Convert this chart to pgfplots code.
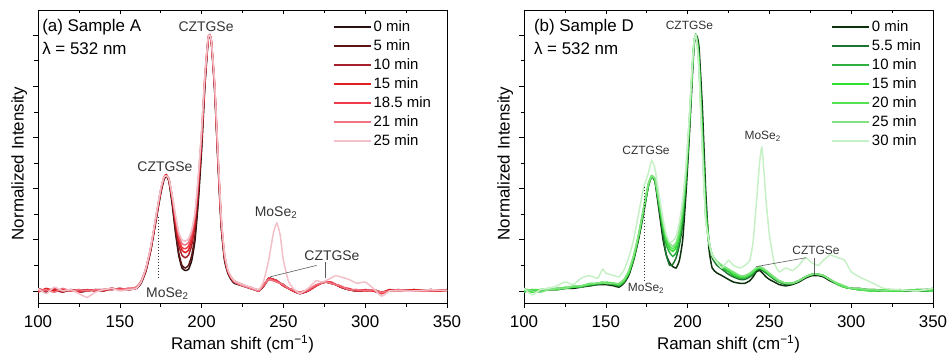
\documentclass[border=0pt]{standalone}
\usepackage{pgfplots}
\pgfplotsset{compat=1.18}
\usepackage{pgfplotstable}
\usepackage{fontspec}
\setmainfont{Liberation Sans}

\definecolor{ra0}{HTML}{2A1010}
\definecolor{ra5}{HTML}{5E1414}
\definecolor{ra10}{HTML}{A8202C}
\definecolor{ra15}{HTML}{E02020}
\definecolor{ra185}{HTML}{F03A4A}
\definecolor{ra21}{HTML}{F07482}
\definecolor{ra25}{HTML}{F2C0C8}
\definecolor{gd0}{HTML}{0C300C}
\definecolor{gd55}{HTML}{1C7430}
\definecolor{gd10}{HTML}{2EB03E}
\definecolor{gd15}{HTML}{30E030}
\definecolor{gd20}{HTML}{52E252}
\definecolor{gd25}{HTML}{82E282}
\definecolor{gd30}{HTML}{C6F0C6}
\definecolor{annot}{HTML}{333333}

\pgfplotstableread{
x a0 a5 a10 a15 a185 a21 a25
100 0.005 0.000 0.010 -0.005 0.005 0.000 0.010
105 -0.005 0.005 0.000 0.010 0.000 0.005 -0.010
110 0.010 0.000 0.005 0.000 0.010 -0.005 0.015
115 0.000 0.005 -0.005 0.005 0.000 0.010 0.000
120 0.005 0.000 0.005 0.000 0.005 0.000 0.005
125 -0.005 0.005 0.000 0.005 -0.005 0.005 -0.010
130 0.000 0.000 0.005 0.000 0.005 0.000 -0.025
135 0.005 0.005 0.000 0.005 0.000 0.005 -0.005
140 0.000 0.005 0.005 0.000 0.005 0.005 0.005
145 0.010 0.005 0.010 0.010 0.005 0.010 0.010
150 0.005 0.010 0.005 0.005 0.010 0.005 0.000
155 0.005 0.005 0.010 0.005 0.005 0.010 0.005
160 0.010 0.010 0.010 0.015 0.010 0.015 0.010
163 0.030 0.030 0.035 0.035 0.035 0.040 0.035
166 0.080 0.080 0.085 0.085 0.090 0.090 0.090
169 0.160 0.165 0.165 0.170 0.170 0.175 0.175
172 0.270 0.275 0.280 0.280 0.285 0.285 0.290
175 0.380 0.385 0.390 0.390 0.395 0.395 0.400
177 0.435 0.440 0.440 0.445 0.445 0.445 0.445
178.5 0.450 0.450 0.450 0.455 0.450 0.450 0.450
180 0.430 0.430 0.435 0.435 0.440 0.440 0.440
182 0.340 0.350 0.360 0.365 0.370 0.370 0.375
184 0.230 0.240 0.260 0.270 0.280 0.290 0.300
186 0.140 0.150 0.180 0.200 0.210 0.220 0.230
188 0.090 0.100 0.140 0.160 0.170 0.185 0.200
190 0.080 0.090 0.130 0.150 0.165 0.180 0.195
192 0.085 0.100 0.140 0.160 0.175 0.190 0.205
194 0.120 0.140 0.180 0.200 0.215 0.230 0.240
196 0.200 0.220 0.260 0.280 0.290 0.300 0.310
198 0.350 0.370 0.400 0.420 0.430 0.440 0.450
200 0.550 0.570 0.590 0.600 0.610 0.620 0.630
202 0.800 0.810 0.820 0.830 0.830 0.840 0.840
204 0.980 0.980 0.985 0.985 0.990 0.990 0.990
205 1.000 1.000 1.000 1.000 1.000 1.000 1.000
206 0.970 0.970 0.970 0.970 0.975 0.975 0.975
208 0.780 0.790 0.790 0.800 0.800 0.800 0.810
210 0.500 0.510 0.520 0.520 0.530 0.530 0.540
212 0.250 0.260 0.270 0.270 0.280 0.280 0.290
214 0.120 0.130 0.130 0.140 0.140 0.140 0.150
216 0.070 0.075 0.075 0.080 0.080 0.080 0.085
218 0.045 0.050 0.050 0.050 0.055 0.055 0.055
220 0.030 0.035 0.035 0.035 0.040 0.035 0.040
225 0.020 0.020 0.025 0.020 0.025 0.020 0.025
230 0.010 0.010 0.010 0.015 0.010 0.010 0.015
235 0.000 0.000 0.005 0.000 0.005 0.000 0.005
238 0.020 0.020 0.020 0.025 0.020 0.025 0.040
241 0.050 0.045 0.050 0.045 0.050 0.045 0.120
244 0.045 0.045 0.045 0.040 0.045 0.040 0.230
246 0.040 0.040 0.040 0.035 0.040 0.035 0.265
248 0.030 0.030 0.030 0.030 0.030 0.030 0.220
250 0.020 0.025 0.020 0.025 0.020 0.025 0.120
253 0.010 0.010 0.010 0.010 0.010 0.010 0.040
256 0.000 0.000 0.005 0.000 0.000 0.005 0.010
260 -0.010 -0.010 -0.010 -0.005 -0.010 -0.005 -0.010
265 0.000 0.000 0.000 0.005 0.000 0.005 0.010
270 0.020 0.020 0.020 0.020 0.020 0.025 0.040
273 0.030 0.030 0.030 0.030 0.030 0.030 0.035
276 0.035 0.035 0.035 0.035 0.035 0.035 0.040
279 0.030 0.030 0.035 0.030 0.035 0.030 0.050
282 0.025 0.025 0.025 0.025 0.025 0.025 0.060
285 0.015 0.015 0.015 0.020 0.015 0.020 0.055
290 0.005 0.005 0.005 0.005 0.010 0.005 0.045
295 0.000 0.000 0.000 0.005 0.000 0.005 0.030
300 0.000 0.005 0.000 0.000 0.005 0.000 0.035
305 0.005 0.000 0.005 0.000 0.000 0.005 0.010
310 -0.005 -0.010 -0.005 -0.005 -0.010 -0.005 -0.020
315 0.000 0.005 0.000 0.005 0.000 0.000 0.000
320 0.000 0.000 0.005 0.000 0.000 0.005 0.000
330 0.000 0.005 0.000 0.005 0.000 0.000 0.000
340 0.005 0.000 0.005 0.000 0.005 0.000 0.005
350 0.000 0.005 0.000 0.000 0.000 0.005 0.000
}\dataA

\pgfplotstableread{
x d0 d55 d10 d15 d20 d25 d30
100 0.000 0.005 -0.005 0.005 0.000 0.010 0.010
105 0.005 0.000 0.005 -0.005 0.005 0.000 -0.015
110 0.000 0.005 0.000 0.005 0.005 -0.005 0.005
115 0.005 0.005 0.005 0.005 0.010 0.005 0.010
120 0.005 0.010 0.005 0.010 0.005 0.010 0.020
125 0.010 0.010 0.010 0.010 0.015 0.010 0.035
130 0.010 0.015 0.015 0.015 0.015 0.020 0.025
135 0.015 0.020 0.015 0.020 0.020 0.020 0.050
140 0.020 0.020 0.025 0.025 0.025 0.030 0.060
145 0.025 0.025 0.030 0.030 0.030 0.030 0.050
148 0.025 0.030 0.030 0.035 0.030 0.035 0.085
150 0.025 0.030 0.030 0.030 0.035 0.030 0.070
155 0.020 0.025 0.025 0.030 0.030 0.030 0.060
158 0.015 0.020 0.020 0.025 0.025 0.030 0.055
161 0.030 0.035 0.035 0.040 0.040 0.045 0.080
164 0.060 0.065 0.070 0.070 0.075 0.080 0.130
167 0.120 0.125 0.130 0.130 0.135 0.140 0.200
170 0.200 0.210 0.210 0.215 0.220 0.220 0.300
173 0.300 0.310 0.310 0.315 0.320 0.320 0.400
176 0.410 0.410 0.410 0.415 0.420 0.420 0.460
178 0.450 0.445 0.445 0.450 0.445 0.450 0.510
180 0.430 0.430 0.435 0.435 0.440 0.440 0.480
182 0.340 0.350 0.360 0.365 0.370 0.375 0.400
185 0.200 0.220 0.240 0.250 0.260 0.270 0.280
187 0.140 0.140 0.180 0.195 0.205 0.215 0.220
189 0.110 0.100 0.150 0.165 0.175 0.185 0.190
191 0.095 0.105 0.135 0.155 0.165 0.175 0.195
193 0.090 0.130 0.150 0.170 0.180 0.190 0.215
195 0.120 0.180 0.200 0.220 0.230 0.240 0.270
197 0.200 0.260 0.290 0.310 0.320 0.330 0.360
199 0.380 0.420 0.440 0.450 0.460 0.470 0.490
201 0.600 0.620 0.640 0.650 0.660 0.660 0.680
203 0.850 0.870 0.880 0.880 0.890 0.890 0.900
204 0.960 0.970 0.970 0.980 0.980 0.980 0.980
205 1.000 1.000 1.000 1.000 1.000 1.000 1.000
206 0.990 0.980 0.970 0.970 0.960 0.960 0.950
207 0.950 0.920 0.900 0.890 0.880 0.870 0.860
209 0.720 0.660 0.620 0.600 0.580 0.570 0.550
211 0.400 0.360 0.330 0.310 0.300 0.290 0.280
213 0.170 0.200 0.200 0.190 0.190 0.190 0.200
215 0.090 0.130 0.140 0.140 0.140 0.140 0.140
218 0.070 0.100 0.110 0.110 0.115 0.115 0.110
221 0.060 0.085 0.090 0.095 0.100 0.100 0.090
225 0.045 0.065 0.075 0.080 0.085 0.085 0.120
228 0.035 0.055 0.060 0.065 0.070 0.075 0.100
232 0.030 0.045 0.050 0.055 0.060 0.060 0.090
235 0.030 0.045 0.050 0.055 0.055 0.060 0.100
238 0.040 0.055 0.060 0.065 0.065 0.070 0.120
240 0.055 0.065 0.070 0.075 0.075 0.080 0.190
242 0.075 0.080 0.085 0.085 0.090 0.090 0.340
244 0.080 0.085 0.090 0.090 0.090 0.095 0.500
245.5 0.072 0.082 0.087 0.087 0.087 0.092 0.560
248 0.055 0.070 0.075 0.075 0.080 0.080 0.350
250 0.045 0.060 0.065 0.065 0.065 0.070 0.220
253 0.035 0.045 0.050 0.050 0.050 0.055 0.110
256 0.025 0.035 0.035 0.040 0.040 0.040 0.075
260 0.020 0.025 0.030 0.030 0.030 0.030 0.090
264 0.025 0.030 0.030 0.030 0.030 0.030 0.080
268 0.035 0.040 0.040 0.040 0.040 0.040 0.100
272 0.050 0.055 0.055 0.055 0.055 0.055 0.130
276 0.060 0.065 0.065 0.065 0.065 0.065 0.110
280 0.060 0.065 0.065 0.065 0.065 0.065 0.100
283 0.055 0.060 0.060 0.060 0.060 0.060 0.120
287 0.040 0.045 0.045 0.045 0.045 0.045 0.140
292 0.025 0.025 0.025 0.025 0.025 0.030 0.130
296 0.015 0.015 0.015 0.015 0.015 0.020 0.120
300 0.010 0.010 0.010 0.010 0.010 0.010 0.075
305 0.010 0.005 0.005 0.005 0.005 0.010 0.055
310 0.005 0.005 0.005 0.005 0.000 0.005 0.040
315 0.005 0.000 0.000 0.005 0.000 0.005 0.025
320 0.000 0.005 0.000 0.000 0.005 0.000 0.010
330 0.000 0.000 0.005 0.000 0.000 0.005 0.005
340 0.005 0.000 0.000 0.005 0.005 0.000 0.000
350 0.005 0.010 0.000 0.005 0.000 0.010 0.010
}\dataD

\pgfplotsset{
 ramanaxis/.style={
  scale only axis, width=409bp, height=293bp,
  xmin=100, xmax=350, ymin=-0.047, ymax=1.098,
  xtick={100,150,...,350}, minor x tick num=1,
  ytick={0,0.2,0.4,0.6,0.8,1.0}, yticklabels={}, minor y tick num=1,
  xtick pos=bottom, ytick pos=left, tick align=outside,
  major tick length=5bp, minor tick length=3.5bp,
  tick style={black, line width=0.6bp},
  axis line style={line width=0.8bp},
  /pgf/number format/assume math mode=true,
  ticklabel style={font=\fontsize{17}{17}\selectfont},
  xticklabel style={yshift=-4bp},
  label style={font=\fontsize{17}{17}\selectfont},
  xlabel={Raman shift (cm\textsuperscript{−1})},
  ylabel={Normalized Intensity},
  xlabel style={at={(axis description cs:0.5,-0.14)}, anchor=center},
  ylabel style={at={(axis description cs:-0.046,0.476)}, anchor=center},
  legend style={draw=none, fill=none, font=\fontsize{15}{15}\selectfont,
    anchor=north west, row sep=2bp, inner sep=0pt,
    nodes={inner sep=2bp, text height=11bp, text depth=2bp}},
  legend cell align=left,
  legend image code/.code={\draw[##1, line width=2bp] (0bp,0bp) -- (37bp,0bp);},
  every axis plot/.append style={line width=1.5bp, smooth, tension=0.3},
 },
 toptick/.style={
  scale only axis, width=409bp, height=293bp,
  xmin=100, xmax=350, ymin=0, ymax=1,
  axis x line*=top, axis y line=none,
  xtick={100,150,...,350}, minor x tick num=1, xticklabels={},
  tick align=inside, major tick length=4bp, minor tick length=3bp,
  tick style={black, line width=0.6bp},
  axis line style={line width=0.8bp},
 },
}

\begin{document}
\begin{tikzpicture}
\useasboundingbox (-38bp,-51bp) rectangle (914bp,303bp);

% ---------- Panel (a) ----------
\begin{axis}[ramanaxis, at={(0bp,0bp)}, anchor=south west,
  legend style={at={(0.72,0.97)}}]
\addplot[color=ra0] table[x=x,y=a0] {\dataA};
\addplot[color=ra5] table[x=x,y=a5] {\dataA};
\addplot[color=ra10] table[x=x,y=a10] {\dataA};
\addplot[color=ra15] table[x=x,y=a15] {\dataA};
\addplot[color=ra185] table[x=x,y=a185] {\dataA};
\addplot[color=ra21] table[x=x,y=a21] {\dataA};
\addplot[color=ra25] table[x=x,y=a25] {\dataA};
\legend{0 min,5 min,10 min,15 min,18.5 min,21 min,25 min}
\node[anchor=west, font=\fontsize{17}{17}\selectfont, inner sep=0pt] at (rel axis cs:0.01,0.943) {(a) Sample A};
\node[anchor=west, font=\fontsize{17}{17}\selectfont, inner sep=0pt] at (rel axis cs:0.01,0.87) {λ = 532 nm};
\begin{scope}[font=\fontsize{14}{14}\selectfont, text=annot]
\node at (axis cs:202.7,1.031) {CZTGSe};
\node at (axis cs:177.6,0.484) {CZTGSe};
\node at (axis cs:245.5,0.305) {MoSe\textsubscript{2}};
\node at (axis cs:279.7,0.137) {CZTGSe};
\node at (axis cs:179.1,-0.012) {MoSe\textsubscript{2}};
\end{scope}
\draw[annot!80, line width=0.6bp] (axis cs:270.3,0.10) -- (axis cs:241.8,0.055);
\draw[annot!80, line width=0.6bp] (axis cs:275.4,0.113) -- (axis cs:275.4,0.05);
\draw[annot, dotted, line width=1bp] (axis cs:173.5,0.29) -- (axis cs:173.5,0.045);
\end{axis}
\begin{axis}[toptick, at={(0bp,0bp)}, anchor=south west]
\end{axis}

% ---------- Panel (b) ----------
\begin{axis}[ramanaxis, at={(486bp,0bp)}, anchor=south west,
  legend style={at={(0.75,0.97)}}]
\addplot[color=gd0] table[x=x,y=d0] {\dataD};
\addplot[color=gd55] table[x=x,y=d55] {\dataD};
\addplot[color=gd10] table[x=x,y=d10] {\dataD};
\addplot[color=gd15] table[x=x,y=d15] {\dataD};
\addplot[color=gd20] table[x=x,y=d20] {\dataD};
\addplot[color=gd25] table[x=x,y=d25] {\dataD};
\addplot[color=gd30] table[x=x,y=d30] {\dataD};
\legend{0 min,5.5 min,10 min,15 min,20 min,25 min,30 min}
\node[anchor=west, font=\fontsize{17}{17}\selectfont, inner sep=0pt] at (rel axis cs:0.024,0.943) {(b) Sample D};
\node[anchor=west, font=\fontsize{17}{17}\selectfont, inner sep=0pt] at (rel axis cs:0.024,0.87) {λ = 532 nm};
\begin{scope}[font=\fontsize{12}{12}\selectfont, text=annot]
\node at (axis cs:201.1,1.039) {CZTGSe};
\node at (axis cs:174.6,0.551) {CZTGSe};
\node at (axis cs:245.9,0.603) {MoSe\textsubscript{2}};
\node at (axis cs:278.5,0.16) {CZTGSe};
\node at (axis cs:174.6,0.01) {MoSe\textsubscript{2}};
\end{scope}
\draw[annot!80, line width=0.6bp] (axis cs:272.4,0.13) -- (axis cs:241.8,0.095);
\draw[annot!80, line width=0.6bp] (axis cs:277.3,0.13) -- (axis cs:277.3,0.063);
\draw[annot, dotted, line width=1bp] (axis cs:173.5,0.407) -- (axis cs:173.5,0.043);
\end{axis}
\begin{axis}[toptick, at={(486bp,0bp)}, anchor=south west]
\end{axis}
\end{tikzpicture}
\end{document}
